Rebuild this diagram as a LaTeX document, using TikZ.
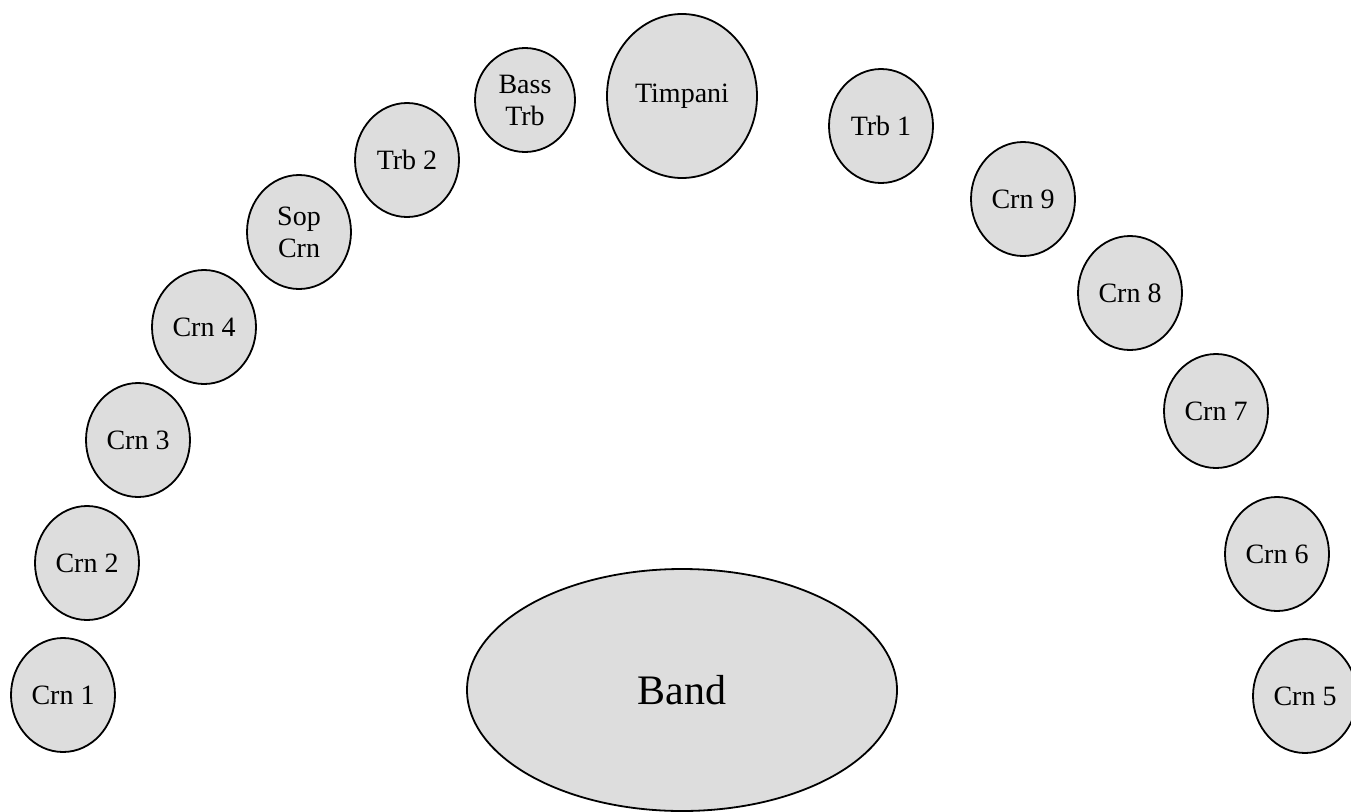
\documentclass[tikz,border=0pt]{standalone}
\usepackage{fontspec}
\setmainfont{Liberation Serif}
\usetikzlibrary{shapes.geometric}
\tikzset{
  seat/.style={ellipse, draw=black, line width=1.8pt, fill=seatgray, inner sep=0pt,
    minimum width=104pt, minimum height=114pt, align=center,
    font=\fontsize{28}{32}\selectfont},
}
\definecolor{seatgray}{HTML}{DDDDDD}
\begin{document}
\begin{tikzpicture}[x=1pt,y=-1pt]
\useasboundingbox (0,0) rectangle (1351,811);
\node[seat] (crn1) at (63,695) {Crn 1};
\node[seat] (crn2) at (87,563) {Crn 2};
\node[seat] (crn3) at (138,440) {Crn 3};
\node[seat] (crn4) at (204,327) {Crn 4};
\node[seat] (sop) at (299,232) {Sop\\Crn};
\node[seat] (trb2) at (407,160) {Trb 2};
\node[seat, minimum width=100pt, minimum height=104pt] (btrb) at (525,100) {Bass\\Trb};
\node[seat, minimum width=150pt, minimum height=164pt] (timp) at (682,96) {Timpani};
\node[seat] (trb1) at (881,126) {Trb 1};
\node[seat] (crn9) at (1023,199) {Crn 9};
\node[seat] (crn8) at (1130,293) {Crn 8};
\node[seat] (crn7) at (1216,411) {Crn 7};
\node[seat] (crn6) at (1277,554) {Crn 6};
\node[seat] (crn5) at (1305,696) {Crn 5};
\node[seat, minimum width=430pt, minimum height=242pt, font=\fontsize{42}{48}\selectfont] (band) at (682,690) {Band};
\end{tikzpicture}
\end{document}
